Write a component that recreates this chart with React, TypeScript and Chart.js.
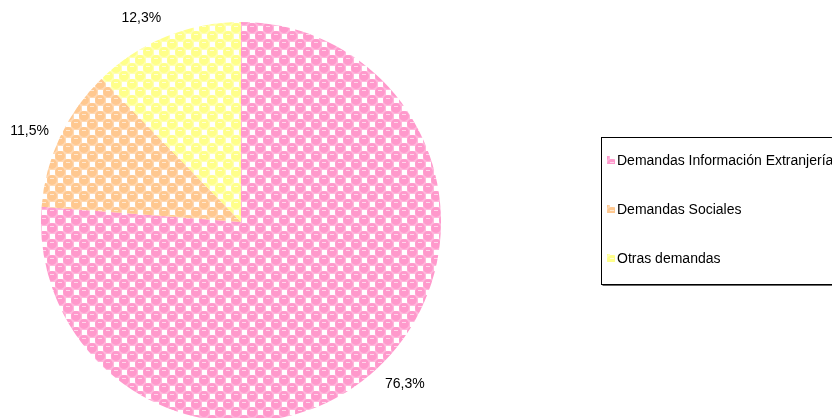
import React, { useEffect, useRef } from "react";
import { Chart, registerables } from "chart.js";

Chart.register(...registerables);

const categories = ["Demandas Información Extranjería", "Demandas Sociales", "Otras demandas"];
const values = [76.3, 11.5, 12.3];
const mainColors = ["#FF99CC", "#FFC890", "#FFFF8A"];
const lightColors = ["#FFB8DC", "#FFD9B4", "#FFFFB4"];
const highlightColors = ["#FFD6EB", "#FFE9D2", "#FFFFDA"];

function makePattern(main: string, light: string, hi: string): CanvasPattern | string {
  const c = document.createElement("canvas");
  c.width = 16;
  c.height = 16;
  const g = c.getContext("2d");
  if (!g) return main;
  g.fillStyle = light;
  g.fillRect(0, 0, 16, 16);
  g.fillStyle = main;
  const centers = [[4, 4], [12, 12], [20, 4], [-4, 12], [4, 20], [12, -4], [20, 20], [-4, -4], [20, -4], [-4, 20]];
  for (const [x, y] of centers) {
    g.beginPath();
    g.arc(x, y, 4.9, 0, Math.PI * 2);
    g.fill();
  }
  g.fillStyle = "#FFFFFF";
  g.fillRect(10, 2, 5, 5);
  g.fillRect(2, 10, 5, 5);
  g.fillStyle = hi;
  g.fillRect(2, 2, 4, 1);
  g.fillRect(10, 10, 4, 1);
  const p = g.createPattern(c, "repeat");
  return p || main;
}

const FONT = "14px 'Liberation Sans', Arial, sans-serif";

export default function App() {
  const ref = useRef<HTMLCanvasElement>(null);
  useEffect(() => {
    document.body.style.margin = "0";
    const canvas = ref.current;
    if (!canvas) return;
    const patterns = mainColors.map((m, i) => makePattern(m, lightColors[i], highlightColors[i]));

    const labelPlugin = {
      id: "outerLabels",
      afterDatasetsDraw(chart: any) {
        const ctx = chart.ctx;
        const meta = chart.getDatasetMeta(0);
        ctx.save();
        ctx.font = FONT;
        ctx.fillStyle = "#000";
        meta.data.forEach((arc: any, i: number) => {
          const { x, y, startAngle, endAngle, outerRadius } = arc.getProps(
            ["x", "y", "startAngle", "endAngle", "outerRadius"],
            true
          );
          const mid = (startAngle + endAngle) / 2;
          const dx = Math.cos(mid);
          const dy = Math.sin(mid);
          const r = outerRadius + 12;
          const px = x + dx * r;
          const py = y + dy * r + (Math.abs(dy) < 0.6 ? 6 : 0);
          ctx.textAlign = dx >= 0 ? "left" : "right";
          ctx.textBaseline = dy >= 0 ? "top" : "bottom";
          const txt = values[i].toFixed(1).replace(".", ",") + "%";
          ctx.fillText(txt, px, py);
        });
        ctx.restore();
      },
    };

    const legendPlugin = {
      id: "boxLegend",
      afterDraw(chart: any) {
        const ctx = chart.ctx;
        ctx.save();
        const bx = 601.5, by = 137.5, bw = 260, bh = 147;
        ctx.strokeStyle = "#000";
        ctx.lineWidth = 1;
        ctx.strokeRect(bx, by, bw, bh);
        ctx.strokeStyle = "#666";
        ctx.beginPath();
        ctx.moveTo(bx + 1, by + bh + 1);
        ctx.lineTo(bx + bw, by + bh + 1);
        ctx.stroke();
        ctx.font = FONT;
        ctx.textAlign = "left";
        ctx.textBaseline = "middle";
        categories.forEach((c, i) => {
          const cy = 160 + i * 49;
          ctx.fillStyle = patterns[i];
          ctx.fillRect(607, cy - 4, 8, 8);
          ctx.fillStyle = "#000";
          ctx.fillText(c, 617, cy + 1);
        });
        ctx.restore();
      },
    };

    const chart = new Chart(canvas, {
      type: "pie",
      data: {
        labels: categories,
        datasets: [
          {
            data: values,
            backgroundColor: patterns as any,
            borderWidth: 0,
            radius: 200,
          } as any,
        ],
      },
      options: {
        animation: false,
        responsive: false,
        layout: { padding: { left: 41, right: 391, top: 26, bottom: 0 } },
        plugins: {
          legend: { display: false },
          tooltip: { enabled: false },
        },
      },
      plugins: [labelPlugin, legendPlugin],
    });
    return () => chart.destroy();
  }, []);

  return (
    <div style={{ position: "absolute", left: 0, top: 0, width: 832, height: 418, overflow: "hidden", background: "#fff" }}>
      <canvas ref={ref} width={832} height={418} style={{ width: 832, height: 418, display: "block" }} />
    </div>
  );
}
